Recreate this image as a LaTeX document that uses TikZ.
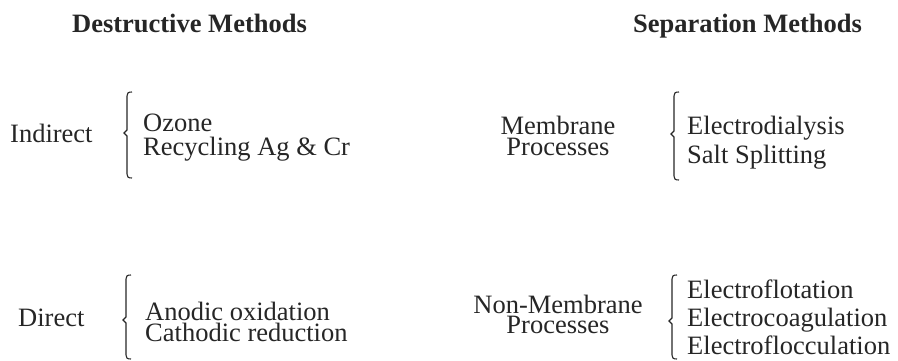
\documentclass[tikz,border=0pt]{standalone}
\usepackage{fontspec}
\setmainfont{Liberation Serif}
\begin{document}
\begin{tikzpicture}[x=1pt,y=-1pt,
  txt/.style={inner sep=0pt,font=\fontsize{26.5}{28}\selectfont,text=black!85},
  lt/.style={txt,anchor=base west},
  ct/.style={txt,anchor=base},
  head/.style={inner sep=0pt,anchor=base,font=\fontsize{26.5}{28}\selectfont\bfseries,text=black!85},
  brc/.style={draw=black!85,line width=1.1pt}]
\useasboundingbox (0,0) rectangle (898,360);
% headings
\node[head] (hd) at (189.5,32) {Destructive Methods};
\node[head] (hs) at (747.5,32) {Separation Methods};
% top left
\node[lt] (ind) at (10,142) {Indirect};
\node[lt] (oz) at (143,131) {Ozone};
\node[lt] (rec) at (143,155) {Recycling Ag \& Cr};
% bottom left
\node[lt] (dir) at (18,326) {Direct};
\node[lt] (an) at (145,320) {Anodic oxidation};
\node[lt] (ca) at (145,341) {Cathodic reduction};
% top right
\node[ct] (mem) at (558,134) {Membrane};
\node[ct] (mpr) at (558,155) {Processes};
\node[lt] (ed) at (687,134) {Electrodialysis};
\node[lt] (ss) at (687,163) {Salt Splitting};
% bottom right
\node[ct] (nm) at (558,313) {Non-Membrane};
\node[ct] (npr) at (558,333) {Processes};
\node[lt] (ef) at (687,298) {Electroflotation};
\node[lt] (ec) at (687,326) {Electrocoagulation};
\node[lt] (efl) at (687,354) {Electroflocculation};
% braces
\newcommand{\mybrace}[4]{% x, top, bottom, tip
  \draw[brc] (#1+5,#2) .. controls (#1+1,#2) and (#1,#2+1) .. (#1,#2+4)
    -- (#1,#4-3) -- (#1-3,#4) -- (#1,#4+3) -- (#1,#3-4)
    .. controls (#1,#3-1) and (#1+1,#3) .. (#1+5,#3);}
\mybrace{127}{92}{178}{133}
\mybrace{674}{92}{180}{134}
\mybrace{126}{275}{359}{320}
\mybrace{672}{275}{359}{321}
\end{tikzpicture}
\end{document}
